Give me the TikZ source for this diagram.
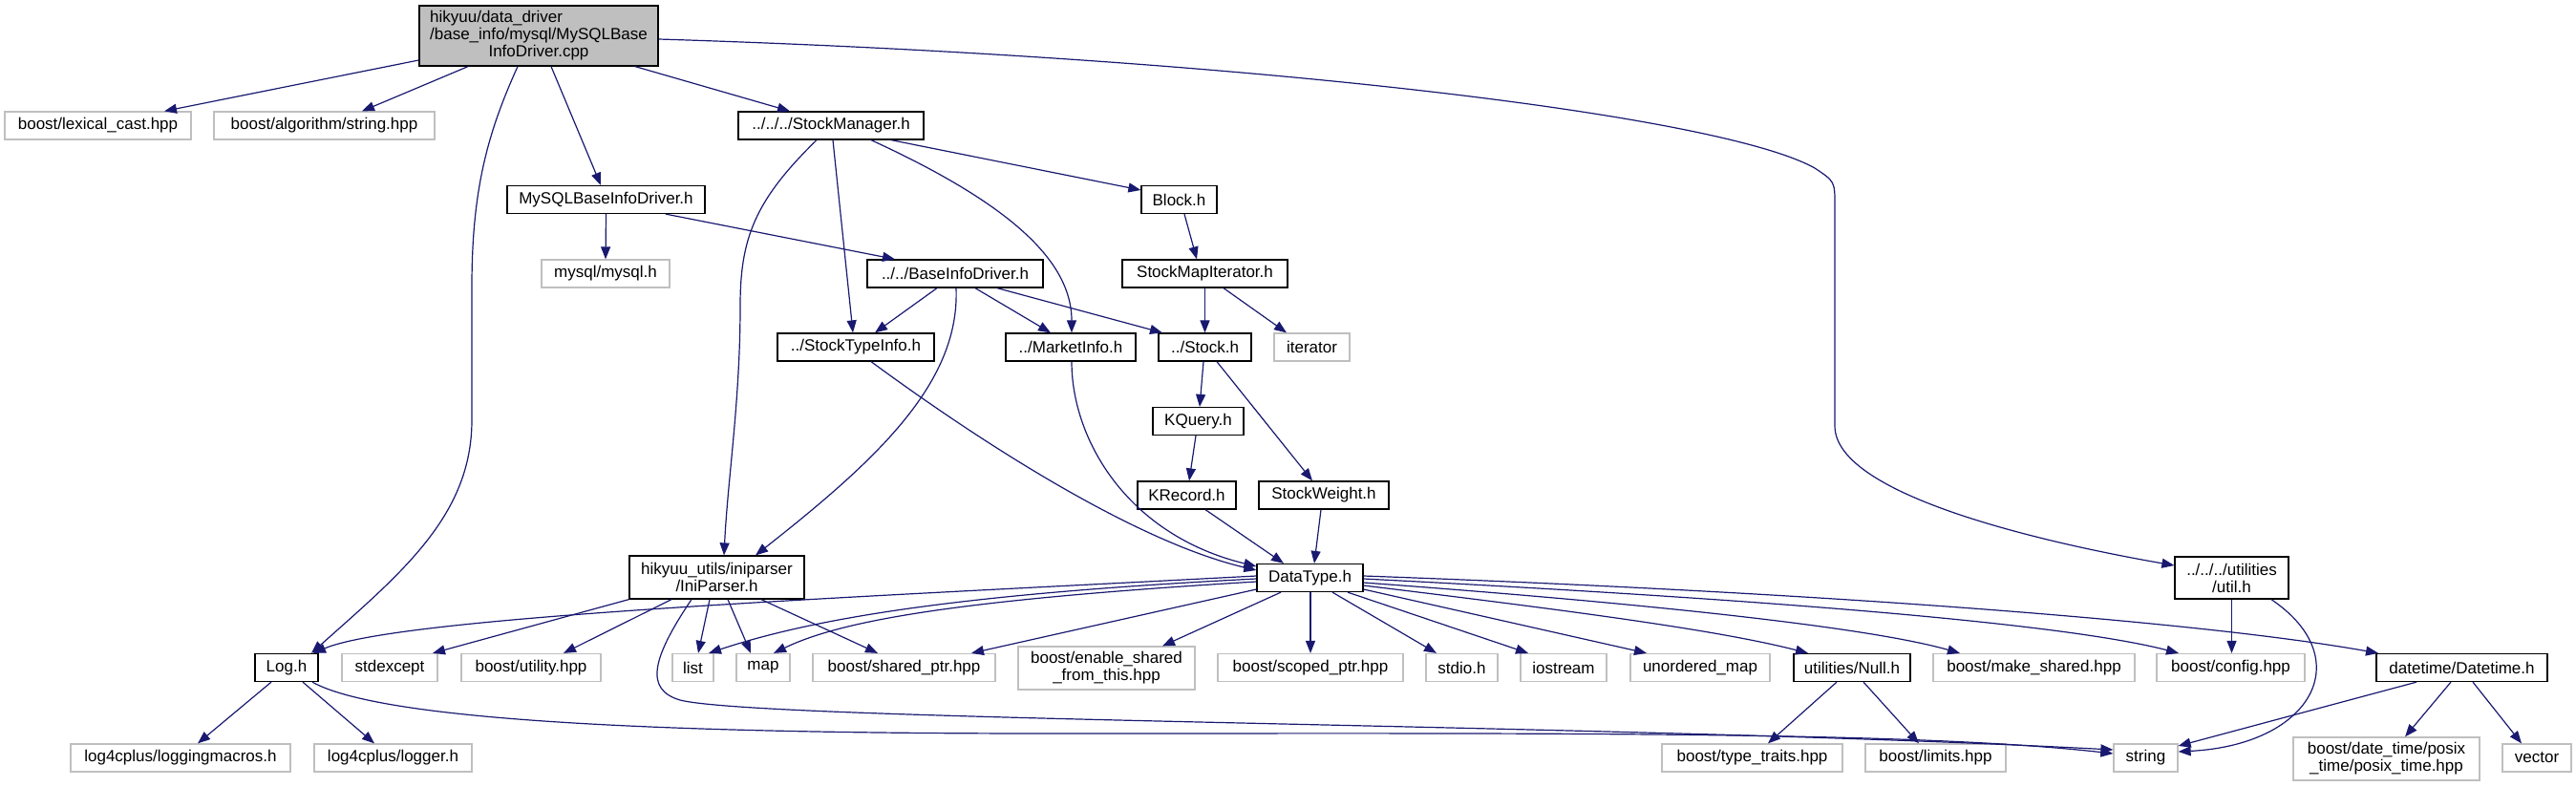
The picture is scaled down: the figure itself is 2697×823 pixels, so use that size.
\documentclass[tikz,border=0pt]{standalone}
\usepackage{fontspec}
\setmainfont{Liberation Sans}
\usetikzlibrary{arrows.meta}
\definecolor{edgeblue}{HTML}{191970}
\definecolor{grayborder}{HTML}{BFBFBF}
\definecolor{rootgray}{HTML}{BFBFBF}
\begin{document}
\begin{tikzpicture}[x=1pt,y=-1pt,
  box/.style={draw=black, line width=1.25pt, inner sep=0pt, font=\fontsize{17}{18}\selectfont, align=center, fill=white, minimum height=29pt},
  ext/.style={box, draw=grayborder},
  edge/.style={draw=edgeblue, line width=1.2pt, -{Triangle[length=13pt,width=10pt]}},
]
\useasboundingbox (0,0) rectangle (2697,823);
% rank 0
\node[box, fill=rootgray, minimum width=250pt, minimum height=63pt] (root) at (564,37.5)
 {\begin{tabular}{@{}l@{}}hikyuu/data\_driver\\/base\_info/mysql/MySQLBase\\\multicolumn{1}{@{}c@{}}{InfoDriver.cpp}\end{tabular}};
% rank 1
\node[ext, minimum width=195pt] (lexical) at (102.5,131.5) {boost/lexical\_cast.hpp};
\node[ext, minimum width=231pt] (algostring) at (339.5,131.5) {boost/algorithm/string.hpp};
\node[box, minimum width=194pt] (stockmgr) at (870,131.5) {../../../StockManager.h};
% rank 2
\node[box, minimum width=207pt] (mysqlh) at (634.5,209) {MySQLBaseInfoDriver.h};
\node[box, minimum width=79pt] (block) at (1234.5,209) {Block.h};
% rank 3
\node[ext, minimum width=134pt] (mysqlinc) at (634,286.5) {mysql/mysql.h};
\node[box, minimum width=184pt] (baseinfo) at (1000,286.5) {../../BaseInfoDriver.h};
\node[box, minimum width=173pt] (smapiter) at (1261.5,286.5) {StockMapIterator.h};
% rank 4
\node[box, minimum width=164pt] (stypeinfo) at (896,363.5) {../StockTypeInfo.h};
\node[box, minimum width=136pt] (marketinfo) at (1121,363.5) {../MarketInfo.h};
\node[box, minimum width=97pt] (stockh) at (1261.5,363.5) {../Stock.h};
\node[ext, minimum width=79pt] (iterator) at (1373.5,363.5) {iterator};
% rank 5
\node[box, minimum width=95pt] (kquery) at (1254.5,441) {KQuery.h};
% rank 6
\node[box, minimum width=103pt] (krecord) at (1242.5,518.5) {KRecord.h};
\node[box, minimum width=136pt] (sweight) at (1386,518.5) {StockWeight.h};
% rank 7
\node[box, minimum width=183pt, minimum height=45pt] (iniparser) at (750.5,604.5) {hikyuu\_utils/iniparser\\/IniParser.h};
\node[box, minimum width=111pt] (datatype) at (1371.5,605) {DataType.h};
\node[box, minimum width=119pt, minimum height=44pt] (util) at (2336.5,605) {../../../utilities\\/util.h};
% rank 8
\node[box, minimum width=66pt] (logh) at (300,699) {Log.h};
\node[ext, minimum width=100pt] (stdexcept) at (408,699) {stdexcept};
\node[ext, minimum width=146pt] (butility) at (556,699) {boost/utility.hpp};
\node[ext, minimum width=43pt] (list) at (725.5,699) {list};
\node[ext, minimum width=56pt] (map) at (799,699) {map};
\node[ext, minimum width=191pt] (sharedptr) at (946.5,699) {boost/shared\_ptr.hpp};
\node[ext, minimum width=185pt, minimum height=45pt] (enableshared) at (1158.5,699.5) {boost/enable\_shared\\\_from\_this.hpp};
\node[ext, minimum width=194pt] (scopedptr) at (1372,699) {boost/scoped\_ptr.hpp};
\node[ext, minimum width=75pt] (stdio) at (1530.5,699) {stdio.h};
\node[ext, minimum width=90pt] (iostream) at (1637,699) {iostream};
\node[ext, minimum width=146pt] (unordmap) at (1780,699) {unordered\_map};
\node[box, minimum width=122pt] (nullh) at (1939,699) {utilities/Null.h};
\node[ext, minimum width=211pt] (makeshared) at (2129.5,699) {boost/make\_shared.hpp};
\node[ext, minimum width=155pt] (config) at (2335.5,699) {boost/config.hpp};
\node[box, minimum width=179pt] (datetime) at (2577.5,699) {datetime/Datetime.h};
% rank 9
\node[ext, minimum width=230pt] (loggingmacros) at (189,793.5) {log4cplus/loggingmacros.h};
\node[ext, minimum width=165pt] (logger) at (411.5,793.5) {log4cplus/logger.h};
\node[ext, minimum width=189pt] (typetraits) at (1834.5,793.5) {boost/type\_traits.hpp};
\node[ext, minimum width=147pt] (limits) at (2026.5,793.5) {boost/limits.hpp};
\node[ext, minimum width=67pt] (string) at (2246.5,793.5) {string};
\node[ext, minimum width=195pt, minimum height=45pt] (posix) at (2498.5,794.5) {boost/date\_time/posix\\\_time/posix\_time.hpp};
\node[ext, minimum width=72pt] (vector) at (2656,793.5) {vector};

% edges from root
\draw[edge] (root.west |- 0,63) -- (lexical.north -| 172,0);
\draw[edge] (root.south -| 490,0) -- (algostring.north -| 379,0);
\draw[edge] (root.south -| 542,0) .. controls (510,140) and (494,200) .. (494,300) -- (494,440) .. controls (494,540) and (420,600) .. (logh.north -| 326,0);
\draw[edge] (root.south -| 577,0) -- (mysqlh.north -| 629,0);
\draw[edge] (root.south -| 665,0) -- (stockmgr.north -| 827,0);
\draw[edge] (root.east |- 0,41) .. controls (1300,60) and (1800,120) .. (1900,176) .. controls (1921,190) .. (1921,215) -- (1921,446) .. controls (1921,520) and (2150,570) .. (util.west |- 0,592);
% MySQLBaseInfoDriver.h
\draw[edge] (mysqlh.south) -- (mysqlinc.north);
\draw[edge] (mysqlh.south -| 697,0) -- (baseinfo.north -| 937,0);
% StockManager.h
\draw[edge] (stockmgr.south -| 855,0) .. controls (790,210) and (775,250) .. (775,320) .. controls (775,420) and (762,500) .. (iniparser.north -| 758,0);
\draw[edge] (stockmgr.south -| 872,0) -- (stypeinfo.north -| 893,0);
\draw[edge] (stockmgr.south -| 912,0) .. controls (1050,210) and (1122,270) .. (marketinfo.north -| 1122,0);
\draw[edge] (stockmgr.south -| 933,0) -- (block.west |- 0,199);
% Block / StockMapIterator
\draw[edge] (block.south -| 1240,0) -- (smapiter.north -| 1253,0);
\draw[edge] (smapiter.south) -- (stockh.north);
\draw[edge] (smapiter.south -| 1281,0) -- (iterator.north -| 1347,0);
% BaseInfoDriver.h
\draw[edge] (baseinfo.south -| 981,0) -- (stypeinfo.north -| 916,0);
\draw[edge] (baseinfo.south -| 1001,0) .. controls (1005,400) and (920,480) .. (iniparser.north -| 791,0);
\draw[edge] (baseinfo.south -| 1021,0) -- (marketinfo.north -| 1100,0);
\draw[edge] (baseinfo.south -| 1044,0) -- (stockh.north -| 1217,0);
% into DataType
\draw[edge] (stypeinfo.south -| 912,0) .. controls (1050,480) and (1200,570) .. (datatype.west |- 0,597);
\draw[edge] (marketinfo.south -| 1122,0) .. controls (1122,460) and (1180,560) .. (datatype.west |- 0,593);
\draw[edge] (krecord.south -| 1262,0) -- (datatype.north -| 1344,0);
\draw[edge] (sweight.south -| 1383,0) -- (datatype.north -| 1376,0);
% Stock.h
\draw[edge] (stockh.south -| 1260,0) -- (kquery.north -| 1256,0);
\draw[edge] (stockh.south -| 1274,0) -- (sweight.north -| 1374,0);
\draw[edge] (kquery.south -| 1252,0) -- (krecord.north -| 1245,0);
% IniParser.h
\draw[edge] (iniparser.south west) -- (stdexcept.north -| 453,0);
\draw[edge] (iniparser.south -| 703,0) -- (butility.north -| 590,0);
\draw[edge] (iniparser.south -| 724,0) .. controls (682,690) and (675,722) .. (712,733) .. controls (800,755) and (1700,758) .. (string.west |- 0,785);
\draw[edge] (iniparser.south -| 743,0) -- (list.north -| 731,0);
\draw[edge] (iniparser.south -| 762,0) -- (map.north -| 786,0);
\draw[edge] (iniparser.south -| 797,0) -- (sharedptr.north -| 919,0);
% DataType.h
\draw[edge] (datatype.west |- 0,603) .. controls (900,625) and (420,645) .. (logh.north -| 328,0);
\draw[edge] (datatype.west |- 0,606) .. controls (1000,622) and (850,648) .. (list.north -| 742,0);
\draw[edge] (datatype.west |- 0,609) .. controls (1000,628) and (880,650) .. (map.north -| 810,0);
\draw[edge] (datatype.west |- 0,617) -- (sharedptr.north -| 1017,0);
\draw[edge] (datatype.south -| 1341,0) -- (enableshared.north -| 1217,0);
\draw[edge] (datatype.south -| 1372,0) -- (scopedptr.north -| 1372,0);
\draw[edge] (datatype.south -| 1395,0) -- (stdio.north -| 1504,0);
\draw[edge] (datatype.south -| 1411,0) -- (iostream.north -| 1600,0);
\draw[edge] (datatype.east |- 0,617) -- (unordmap.north -| 1724,0);
\draw[edge] (datatype.east |- 0,613) .. controls (1650,640) and (1800,660) .. (nullh.north -| 1893,0);
\draw[edge] (datatype.east |- 0,610) .. controls (1700,630) and (1950,655) .. (makeshared.north -| 2052,0);
\draw[edge] (datatype.east |- 0,606) .. controls (1800,625) and (2150,650) .. (config.north -| 2281,0);
\draw[edge] (datatype.east |- 0,603) .. controls (1900,620) and (2300,650) .. (datetime.north -| 2490,0);
% Log.h
\draw[edge] (logh.south -| 284,0) -- (loggingmacros.north -| 207,0);
\draw[edge] (logh.south -| 317,0) -- (logger.north -| 392,0);
\draw[edge] (logh.south -| 327,0) .. controls (400,755) and (700,768) .. (1100,768) .. controls (1600,768) and (2000,765) .. (string.west |- 0,789);
% Null.h
\draw[edge] (nullh.south -| 1923,0) -- (typetraits.north -| 1851,0);
\draw[edge] (nullh.south -| 1951,0) -- (limits.north -| 2009,0);
% util.h
\draw[edge] (util.south) -- (util.south |- config.north);
\draw[edge] (util.south -| 2378,0) .. controls (2470,690) and (2420,780) .. (string.east |- 0,787);
% Datetime.h
\draw[edge] (datetime.south -| 2530,0) -- (string.east |- 0,781);
\draw[edge] (datetime.south -| 2566,0) -- (posix.north -| 2518,0);
\draw[edge] (datetime.south -| 2589,0) -- (vector.north -| 2640,0);
\end{tikzpicture}
\end{document}
